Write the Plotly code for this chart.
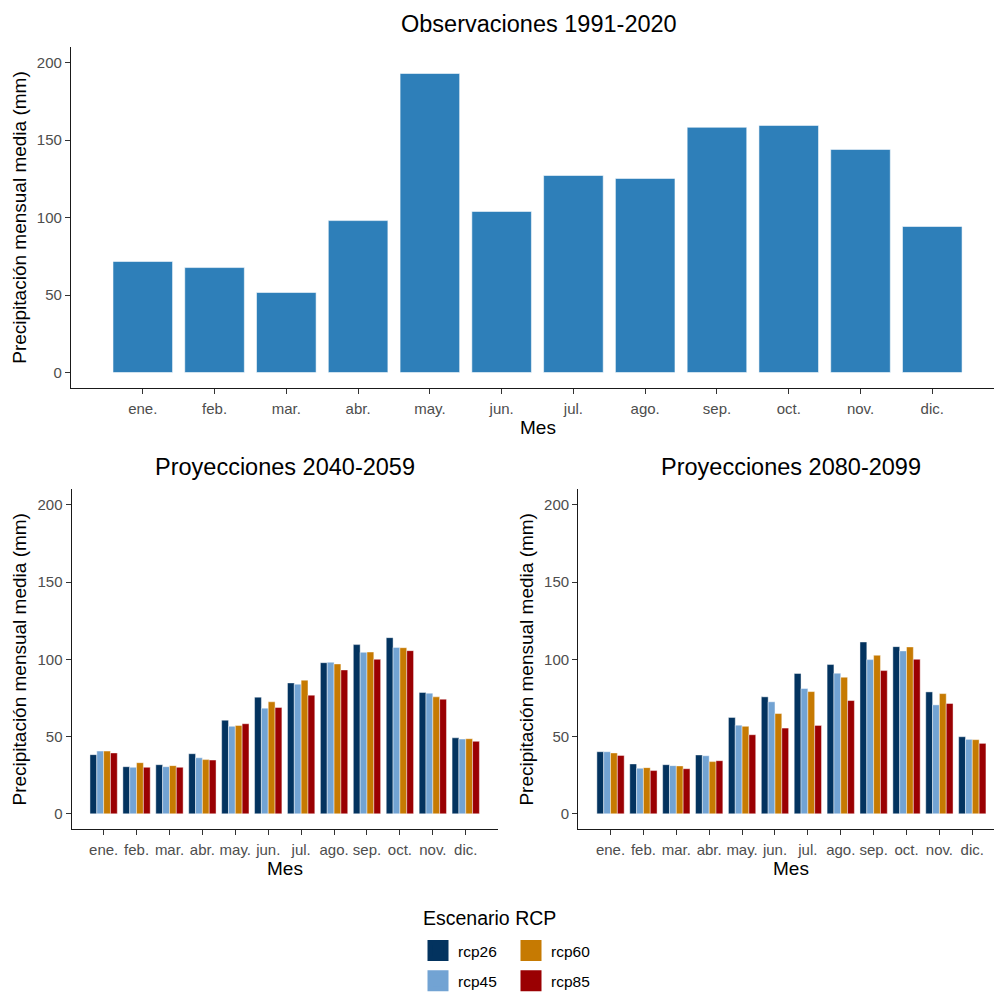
import plotly.graph_objects as go

# Monthly labels
meses = ["ene.", "feb.", "mar.", "abr.", "may.", "jun.",
         "jul.", "ago.", "sep.", "oct.", "nov.", "dic."]

# Observed mean monthly precipitation 1991-2020 (mm)
obs_1991_2020 = [71.6, 67.7, 51.6, 98.0, 192.9, 103.9,
                 127.1, 125.2, 158.2, 159.4, 143.9, 94.2]

# Projected mean monthly precipitation 2040-2059 (mm), per RCP scenario
p2040_rcp26 = [38.3, 30.5, 31.8, 38.9, 60.6, 75.5, 84.7, 97.8, 109.5, 114.0, 78.5, 49.2]
p2040_rcp45 = [40.6, 30.1, 30.5, 36.3, 56.6, 68.4, 83.9, 98.1, 104.5, 107.7, 78.1, 48.4]
p2040_rcp60 = [40.6, 33.1, 31.2, 35.1, 57.2, 72.5, 86.5, 97.0, 104.7, 107.5, 75.7, 48.6]
p2040_rcp85 = [39.4, 30.1, 30.1, 34.8, 58.3, 68.8, 76.8, 93.1, 100.0, 105.6, 74.2, 46.9]

# Projected mean monthly precipitation 2080-2099 (mm), per RCP scenario
p2080_rcp26 = [40.2, 32.3, 31.8, 38.1, 62.4, 75.7, 90.8, 96.6, 111.2, 108.2, 78.9, 49.9]
p2080_rcp45 = [40.2, 29.5, 31.2, 37.6, 57.4, 72.5, 81.1, 91.0, 99.8, 105.4, 70.5, 48.2]
p2080_rcp60 = [39.4, 29.9, 31.0, 33.8, 56.6, 64.9, 79.1, 88.4, 102.6, 108.0, 77.8, 48.0]
p2080_rcp85 = [37.8, 28.0, 29.2, 34.4, 51.2, 55.5, 57.2, 73.3, 92.7, 100.0, 71.4, 45.6]

escenarios = ["rcp26", "rcp45", "rcp60", "rcp85"]
colores = {"rcp26": "#03335f", "rcp45": "#72a3d3", "rcp60": "#c67a02", "rcp85": "#9a0002"}

W, H = 995, 992
FONT = "Liberation Sans, Arial, sans-serif"


def px_x(p):
    return p / W


def px_y(p):
    return (H - p) / H


fig = go.Figure()

# Observations panel
fig.add_trace(go.Bar(
    x=meses, y=obs_1991_2020, xaxis="x", yaxis="y",
    marker=dict(color="#2e7fb9", line=dict(color="rgba(255,255,255,0.55)", width=1)),
    showlegend=False, hoverinfo="x+y",
))

proy = [
    ("x2", "y2", [p2040_rcp26, p2040_rcp45, p2040_rcp60, p2040_rcp85]),
    ("x3", "y3", [p2080_rcp26, p2080_rcp45, p2080_rcp60, p2080_rcp85]),
]
for xa, ya, series in proy:
    for esc, vals in zip(escenarios, series):
        fig.add_trace(go.Bar(
            x=meses, y=vals, xaxis=xa, yaxis=ya, name=esc,
            marker=dict(color=colores[esc], line=dict(color="rgba(255,255,255,0.55)", width=0.8)),
            showlegend=False,
        ))

# Legend entries (two columns of two keys)
for i, esc in enumerate(escenarios):
    fig.add_trace(go.Scatter(
        x=[None], y=[None], xaxis="x2", yaxis="y2", mode="markers", name=esc,
        marker=dict(symbol="square", size=28, color=colores[esc],
                    line=dict(color=colores[esc], width=6)),
        legend="legend" if i < 2 else "legend2",
        legendgroup=esc, showlegend=True,
    ))

tickfont = dict(family=FONT, size=15, color="#4d4d4d")
titlefont = dict(family=FONT, size=19, color="black")


def xaxis(domain, rng, anchor):
    return dict(domain=domain, range=rng, anchor=anchor, type="category",
                showline=True, linecolor="#1a1a1a", linewidth=1.3,
                ticks="outside", ticklen=5, tickwidth=1.2, tickcolor="#333333",
                ticklabelstandoff=2, automargin=False,
                showgrid=False, zeroline=False, tickfont=tickfont)


def yaxis(domain, anchor):
    return dict(domain=domain, range=[-10, 210], anchor=anchor,
                tickvals=[0, 50, 100, 150, 200], automargin=False,
                showline=True, linecolor="#1a1a1a", linewidth=1.3,
                ticks="outside", ticklen=5, tickwidth=1.2, tickcolor="#333333",
                showgrid=False, zeroline=False, tickfont=tickfont,
                title=dict(text="Precipitación mensual media (mm)", font=titlefont, standoff=5))


ytop = [px_y(388), px_y(47)]
ybot = [px_y(829.3), px_y(489.3)]

legend_common = dict(
    y=px_y(934), xanchor="left", yanchor="top",
    orientation="v", traceorder="grouped", tracegroupgap=7,
    font=dict(family=FONT, size=15.5, color="black"),
    bgcolor="rgba(0,0,0,0)",
)

fig.update_layout(
    width=W, height=H,
    margin=dict(l=0, r=0, t=0, b=0, autoexpand=False),
    paper_bgcolor="white", plot_bgcolor="white",
    font=dict(family=FONT),
    barmode="group", bargap=0.17, bargroupgap=0.0,
    xaxis=xaxis([px_x(71), px_x(994)], [-1.0, 11.86], "y"),
    yaxis=yaxis(ytop, "x"),
    xaxis2=xaxis([px_x(71.7), px_x(498)], [-0.97, 11.98], "y2"),
    yaxis2=yaxis(ybot, "x2"),
    xaxis3=xaxis([px_x(578.3), px_x(994)], [-0.98, 11.66], "y3"),
    yaxis3=yaxis(ybot, "x3"),
    legend=dict(x=px_x(418), **legend_common),
    legend2=dict(x=px_x(511), **legend_common),
)

# Panel titles, x-axis titles and the legend heading
annots = [
    ("Observaciones 1991-2020", 538.5, 24, 23.5, "center"),
    ("Proyecciones 2040-2059", 284.5, 467, 23.5, "center"),
    ("Proyecciones 2080-2099", 791, 467, 23.5, "center"),
    ("Mes", 538, 427, 19, "center"),
    ("Mes", 285, 868, 19, "center"),
    ("Mes", 791, 868, 19, "center"),
    ("Escenario RCP", 421, 918, 19.5, "left"),
]
for text, cx, cy, size, anchor in annots:
    fig.add_annotation(text=text, x=px_x(cx), y=px_y(cy), xref="paper", yref="paper",
                       xanchor=anchor, yanchor="middle", showarrow=False,
                       font=dict(family=FONT, size=size, color="black"))

fig.write_html("out.html")
